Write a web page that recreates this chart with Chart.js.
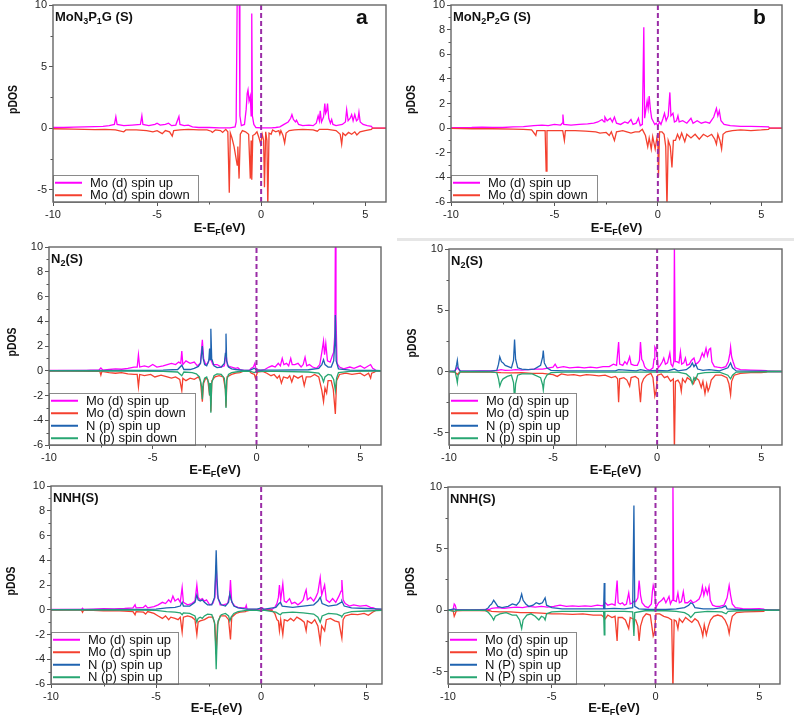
<!DOCTYPE html>
<html>
<head>
<meta charset="utf-8">
<script src="https://cdn.jsdelivr.net/npm/chart.js@4/dist/chart.umd.min.js"></script>
<style>
body { margin: 0; background: #fff; }
#wrap { position: relative; width: 794px; height: 718px; overflow: hidden; }
#wrap canvas { position: absolute; }
.sep { position: absolute; background: #e6e6e6; }
</style>
</head>
<body>
<div id="wrap">
  <div class="sep" style="left:397px;top:238px;width:397px;height:3px"></div>
</div>
<script>
// tick values
const xTicks = [-10, -5, 0, 5];
const xMinor = [-7.5, -2.5, 2.5];
const yTicks5 = [-5, 0, 5, 10];
const yMinor5 = [-2.5, 2.5, 7.5];
const yTicks2 = [-6, -4, -2, 0, 2, 4, 6, 8, 10];
const yMinor2 = [-5, -3, -1, 1, 3, 5, 7, 9];

// legend labels
const labels2 = ["Mo (d) spin up", "Mo (d) spin down"];
const labelsC = ["Mo (d) spin up", "Mo (d) spin down", "N (p) spin up", "N (p) spin down"];
const labelsDE = ["Mo (d) spin up", "Mo (d) spin up", "N (p) spin up", "N (p) spin up"];
const labelsF = ["Mo (d) spin up", "Mo (d) spin up", "N (P) spin up", "N (P) spin up"];

// Fermi level marker
const fermi = [[0, -6], [0, 10]];

// (a) MoN3P1G
const aMoUp = [[-10,0.05],[-9.5,0.05],[-9,0.08],[-8.5,0.1],[-8,0.12],[-7.6,0.15],[-7.3,0.2],[-7.05,0.3],[-6.98,0.92],[-6.92,0.3],[-6.6,0.2],[-6.2,0.25],[-5.8,0.3],[-5.73,1.0],[-5.68,0.3],[-5.4,0.2],[-5.1,0.3],[-5.0,0.4],[-4.85,0.25],[-4.6,0.3],[-4.45,0.4],[-4.3,0.2],[-4.1,0.25],[-3.95,0.95],[-3.9,0.3],[-3.7,0.2],[-3.5,0.25],[-3.3,0.1],[-3.0,0.05],[-2.5,0.05],[-2,0.02],[-1.5,0.02],[-1.25,0.1],[-1.2,0.5],[-1.15,10.5],[-1.05,10.5],[-1.02,1.0],[-0.95,0.2],[-0.8,0.3],[-0.72,1.5],[-0.67,2.8],[-0.63,3.1],[-0.58,2.2],[-0.52,2.6],[-0.48,1.0],[-0.45,9.3],[-0.42,1.0],[-0.35,0.3],[-0.25,0.05],[0,0.02],[0.5,0.02],[0.7,0.05],[0.9,0.1],[1.1,0.3],[1.3,0.5],[1.42,0.8],[1.48,1.1],[1.55,0.7],[1.65,0.5],[1.7,0.65],[1.8,0.3],[2.0,0.2],[2.3,0.25],[2.5,0.2],[2.65,0.4],[2.74,1.0],[2.8,0.6],[2.84,1.4],[2.9,0.5],[3.0,0.9],[3.06,2.0],[3.1,1.2],[3.15,1.4],[3.19,2.0],[3.25,0.8],[3.33,0.4],[3.39,0.7],[3.45,0.3],[3.6,0.2],[3.9,0.3],[4.05,0.5],[4.11,1.5],[4.18,0.6],[4.28,0.8],[4.35,1.1],[4.42,0.6],[4.5,1.1],[4.58,0.6],[4.65,0.7],[4.7,1.3],[4.76,0.5],[4.9,0.3],[5.1,0.2],[5.3,0.15],[5.35,0],[6,0]];
const aMoDn = [[-10,-0.05],[-9,-0.08],[-8.5,-0.1],[-8,-0.12],[-7.5,-0.1],[-7,-0.15],[-6.6,-0.3],[-6.5,-0.15],[-6,-0.15],[-5.5,-0.2],[-5.2,-0.3],[-5,-0.2],[-4.75,-0.45],[-4.6,-0.2],[-4.4,-0.3],[-4.27,-0.65],[-4.2,-0.2],[-3.9,-0.15],[-3.5,-0.1],[-3,-0.15],[-2.6,-0.15],[-2.4,-0.25],[-2.34,-0.35],[-2.2,-0.15],[-1.95,-0.2],[-1.85,-0.35],[-1.7,-0.1],[-1.6,-0.3],[-1.53,-5.25],[-1.48,-0.4],[-1.4,-0.8],[-1.3,-1.5],[-1.2,-2.5],[-1.15,-3.0],[-1.12,-1.5],[-1.06,-4.1],[-1.0,-0.5],[-0.9,-0.2],[-0.75,-0.3],[-0.6,-0.5],[-0.52,-4.1],[-0.48,-1.0],[-0.45,-4.2],[-0.4,-0.6],[-0.3,-0.5],[-0.2,-0.3],[-0.1,-0.8],[-0.02,-1.3],[0.05,-0.5],[0.12,-1.0],[0.16,-4.8],[0.22,-0.3],[0.28,-1.0],[0.32,-6.5],[0.38,-0.4],[0.48,-0.5],[0.55,-0.15],[0.7,-0.3],[0.85,-0.2],[0.9,-0.5],[0.95,-0.2],[1.05,-0.6],[1.13,-1.2],[1.2,-0.4],[1.35,-0.2],[1.6,-0.15],[2,-0.1],[2.5,-0.15],[2.7,-0.25],[2.8,-0.1],[3.2,-0.1],[3.6,-0.2],[3.8,-0.5],[3.87,-1.3],[3.93,-0.4],[4.05,-0.6],[4.2,-0.35],[4.35,-0.5],[4.5,-0.3],[4.6,-0.55],[4.75,-0.3],[5,-0.2],[5.3,-0.1],[5.35,0],[6,0]];

// (b) MoN2P2G
const bMoUp = [[-10,0.03],[-9,0.05],[-8.5,0.08],[-8,0.05],[-7.5,0.05],[-7,0.1],[-6.5,0.12],[-6,0.2],[-5.6,0.25],[-5.3,0.2],[-5,0.3],[-4.7,0.25],[-4.62,0.4],[-4.59,1.1],[-4.55,0.3],[-4.2,0.25],[-3.8,0.3],[-3.4,0.35],[-3.1,0.4],[-2.9,0.5],[-2.7,0.7],[-2.6,0.5],[-2.56,0.9],[-2.45,0.6],[-2.3,0.8],[-2.2,0.5],[-2.1,0.9],[-2.0,0.4],[-1.8,0.3],[-1.6,0.5],[-1.45,0.4],[-1.3,0.7],[-1.2,0.3],[-1.05,0.4],[-0.94,0.8],[-0.85,0.2],[-0.75,0.3],[-0.68,8.2],[-0.64,0.8],[-0.58,1.5],[-0.52,2.2],[-0.47,1.6],[-0.42,2.6],[-0.36,1.5],[-0.3,0.8],[-0.24,0.6],[-0.15,0.3],[-0.08,0.4],[0,0.2],[0.08,0.5],[0.15,0.3],[0.25,0.8],[0.32,1.2],[0.4,0.6],[0.5,1.0],[0.58,2.9],[0.63,1.0],[0.73,1.2],[0.8,0.5],[0.9,0.6],[0.97,1.0],[1.03,0.5],[1.2,0.6],[1.4,0.4],[1.6,0.8],[1.7,0.4],[1.9,0.6],[2.1,0.4],[2.3,0.5],[2.5,0.4],[2.7,0.9],[2.83,1.6],[2.9,1.0],[2.97,1.4],[3.05,0.6],[3.2,0.3],[3.5,0.2],[4,0.15],[4.5,0.15],[5,0.12],[5.35,0.1],[5.4,0],[6,0]];
const bMoDn = [[-10,-0.02],[-9,-0.05],[-8,-0.05],[-7,-0.08],[-6.5,-0.1],[-6.1,-0.15],[-5.9,-0.6],[-5.85,-0.2],[-5.6,-0.2],[-5.45,-0.2],[-5.4,-3.5],[-5.36,-0.2],[-5,-0.2],[-4.6,-0.2],[-4.52,-1.0],[-4.47,-0.2],[-4,-0.2],[-3.5,-0.25],[-3,-0.3],[-2.8,-0.4],[-2.5,-0.35],[-2.35,-0.6],[-2.25,-0.3],[-2.1,-1.0],[-2.0,-0.3],[-1.7,-0.2],[-1.5,-0.3],[-1.3,-0.4],[-1.1,-0.3],[-0.9,-0.3],[-0.75,-0.1],[-0.6,-0.6],[-0.49,-1.5],[-0.42,-0.8],[-0.32,-1.7],[-0.25,-0.7],[-0.13,-1.7],[-0.05,-0.8],[0,-1.2],[0.03,-4.0],[0.08,-0.3],[0.2,-0.3],[0.3,-0.5],[0.38,-1.5],[0.44,-6.5],[0.5,-1.0],[0.6,-1.5],[0.68,-3.2],[0.75,-1.0],[0.85,-1.0],[0.95,-0.5],[1.05,-0.9],[1.15,-0.4],[1.3,-1.1],[1.4,-0.5],[1.6,-0.8],[1.8,-0.5],[2.0,-0.9],[2.2,-0.5],[2.4,-0.7],[2.6,-0.5],[2.75,-0.9],[2.83,-1.3],[2.9,-0.5],[3.0,-1.0],[3.08,-1.7],[3.15,-0.5],[3.3,-0.3],[3.6,-0.2],[4,-0.15],[4.5,-0.2],[5,-0.15],[5.35,-0.1],[5.4,0],[6,0]];

// (c) N2 on MoN3P1G
const cMoUp = [[-10,0.02],[-9,0.02],[-8.2,0.03],[-8,0.05],[-7.6,0.05],[-7.5,0.22],[-7.4,0.05],[-7.1,0.1],[-6.8,0.15],[-6.5,0.12],[-6.2,0.2],[-5.9,0.3],[-5.75,0.3],[-5.69,1.3],[-5.63,0.3],[-5.4,0.4],[-5.2,0.3],[-5,0.5],[-4.8,0.3],[-4.5,0.4],[-4.3,0.5],[-4.1,0.6],[-3.9,0.5],[-3.75,0.7],[-3.65,0.6],[-3.6,1.6],[-3.55,0.5],[-3.4,0.8],[-3.2,0.6],[-3.0,0.7],[-2.85,0.4],[-2.7,0.6],[-2.61,2.5],[-2.55,1.0],[-2.45,0.5],[-2.35,0.6],[-2.26,1.0],[-2.2,0.9],[-2.1,0.5],[-1.9,0.5],[-1.7,0.3],[-1.55,0.4],[-1.47,1.4],[-1.4,0.4],[-1.2,0.3],[-1.0,0.2],[-0.9,0.25],[-0.8,0.1],[-0.6,0.02],[-0.35,0.02],[-0.25,0.2],[-0.15,0.3],[-0.08,0.6],[-0.02,0.1],[0.2,0.02],[0.4,0.1],[0.6,0.3],[0.75,0.4],[0.9,0.3],[1.05,0.6],[1.15,0.4],[1.24,1.0],[1.32,0.5],[1.45,0.6],[1.55,0.4],[1.65,1.0],[1.72,0.5],[1.85,0.5],[2.0,0.6],[2.15,0.3],[2.25,0.5],[2.34,1.1],[2.42,0.4],[2.55,0.5],[2.7,0.3],[2.9,0.2],[3.05,0.5],[3.15,1.5],[3.23,2.4],[3.28,1.3],[3.34,2.2],[3.42,0.8],[3.55,0.7],[3.65,1.2],[3.72,1.5],[3.78,3.1],[3.8,10.5],[3.83,4.5],[3.88,0.6],[4.0,0.3],[4.2,0.15],[4.5,0.3],[4.7,0.2],[5.0,0.4],[5.2,0.2],[5.5,0.5],[5.6,0.2],[5.7,0.1],[5.75,0],[6,0]];
const cMoDn = [[-10,-0.02],[-9,-0.02],[-8,-0.05],[-7.55,-0.05],[-7.5,-0.35],[-7.45,-0.05],[-7.1,-0.15],[-6.8,-0.2],[-6.5,-0.15],[-6.2,-0.25],[-5.9,-0.3],[-5.75,-0.3],[-5.69,-1.3],[-5.63,-0.3],[-5.4,-0.4],[-5.1,-0.3],[-4.9,-0.5],[-4.6,-0.35],[-4.3,-0.5],[-4.1,-0.6],[-3.9,-0.5],[-3.7,-0.7],[-3.6,-1.6],[-3.55,-0.6],[-3.4,-0.8],[-3.2,-0.6],[-3.0,-0.7],[-2.8,-0.5],[-2.7,-0.8],[-2.61,-2.5],[-2.55,-1.0],[-2.45,-0.6],[-2.35,-0.7],[-2.26,-2.0],[-2.23,-1.0],[-2.2,-3.3],[-2.15,-0.8],[-2.0,-0.5],[-1.8,-0.4],[-1.6,-0.5],[-1.5,-1.5],[-1.47,-2.9],[-1.42,-0.5],[-1.2,-0.3],[-1.0,-0.2],[-0.8,-0.15],[-0.6,-0.02],[-0.35,-0.02],[-0.25,-0.2],[-0.1,-0.3],[-0.05,-0.6],[0.05,-0.1],[0.3,-0.05],[0.5,-0.2],[0.7,-0.4],[0.85,-0.3],[1.0,-0.6],[1.1,-0.4],[1.2,-1.0],[1.3,-0.5],[1.5,-0.6],[1.6,-0.4],[1.7,-0.9],[1.8,-0.4],[2.0,-0.6],[2.2,-0.4],[2.3,-1.2],[2.4,-0.5],[2.6,-0.5],[2.8,-0.3],[3.0,-0.5],[3.15,-1.6],[3.23,-2.5],[3.3,-1.4],[3.38,-1.8],[3.45,-0.8],[3.6,-0.8],[3.7,-1.5],[3.8,-3.5],[3.86,-0.8],[4.0,-0.3],[4.3,-0.2],[4.6,-0.3],[5.0,-0.2],[5.2,-0.4],[5.4,-0.2],[5.5,-0.6],[5.55,-0.2],[5.7,-0.1],[5.75,0],[6,0]];
const cNUp = [[-10,0.01],[-6,0.02],[-4.5,0.05],[-3.8,0.1],[-3.6,0.45],[-3.5,0.1],[-3.2,0.1],[-3.0,0.2],[-2.8,0.35],[-2.7,0.6],[-2.64,1.5],[-2.61,2.0],[-2.57,1.0],[-2.5,0.5],[-2.4,0.4],[-2.3,0.8],[-2.26,1.8],[-2.23,0.9],[-2.2,3.4],[-2.16,1.0],[-2.05,0.4],[-1.9,0.25],[-1.7,0.3],[-1.55,0.6],[-1.5,1.4],[-1.47,3.0],[-1.44,0.8],[-1.35,0.3],[-1.2,0.15],[-1.0,0.1],[-0.6,0.02],[-0.3,0.05],[-0.1,0.2],[0,0.05],[1,0.05],[2.5,0.08],[3.0,0.2],[3.15,0.5],[3.23,0.9],[3.3,0.5],[3.45,0.3],[3.6,0.3],[3.72,0.8],[3.78,2.5],[3.8,4.5],[3.84,0.8],[3.95,0.15],[4.5,0.05],[5.75,0.02],[6,0]];
const cNDn = [[-10,-0.01],[-6,-0.02],[-4.5,-0.05],[-3.8,-0.1],[-3.6,-0.4],[-3.5,-0.1],[-3.1,-0.15],[-2.9,-0.25],[-2.75,-0.5],[-2.64,-1.3],[-2.61,-2.3],[-2.57,-1.0],[-2.5,-0.6],[-2.4,-0.5],[-2.3,-1.0],[-2.26,-2.0],[-2.23,-1.0],[-2.2,-3.4],[-2.16,-1.0],[-2.05,-0.4],[-1.9,-0.25],[-1.7,-0.3],[-1.55,-0.6],[-1.5,-1.5],[-1.47,-3.0],[-1.44,-0.8],[-1.35,-0.3],[-1.2,-0.15],[-1.0,-0.1],[-0.6,-0.02],[-0.3,-0.05],[-0.1,-0.15],[0,-0.05],[1,-0.05],[2.5,-0.1],[3.0,-0.2],[3.15,-0.5],[3.23,-0.9],[3.3,-0.5],[3.45,-0.3],[3.6,-0.35],[3.72,-0.7],[3.8,-1.6],[3.86,-0.6],[3.95,-0.15],[4.5,-0.05],[5.75,-0.02],[6,0]];

// (d) N2 on MoN2P2G
const dMoUp = [[-10,0],[-9.75,0.02],[-9.65,0.2],[-9.6,0.35],[-9.55,0.2],[-9.45,0.02],[-9,0.03],[-8.5,0.05],[-8,0.05],[-7.7,0.08],[-7.5,0.15],[-7.3,0.1],[-7,0.12],[-6.8,0.15],[-6.5,0.12],[-6.2,0.15],[-5.9,0.2],[-5.5,0.2],[-5.2,0.3],[-5,0.35],[-4.9,0.6],[-4.8,0.3],[-4.5,0.4],[-4.2,0.3],[-3.8,0.35],[-3.5,0.3],[-3.2,0.35],[-2.9,0.3],[-2.6,0.4],[-2.3,0.4],[-2.1,0.6],[-1.95,0.5],[-1.85,2.4],[-1.8,0.6],[-1.65,0.5],[-1.55,0.8],[-1.45,0.6],[-1.38,0.9],[-1.32,1.2],[-1.25,0.6],[-1.1,0.5],[-0.95,0.5],[-0.85,0.9],[-0.8,2.4],[-0.74,1.0],[-0.67,0.8],[-0.6,0.4],[-0.5,0.2],[-0.35,0.1],[-0.2,0.3],[-0.15,1.0],[-0.11,2.0],[-0.05,1.8],[0,1.5],[0.05,0.3],[0.15,0.5],[0.25,0.8],[0.32,1.1],[0.4,0.6],[0.5,0.7],[0.61,1.5],[0.67,0.6],[0.75,0.4],[0.8,0.8],[0.83,10.5],[0.87,0.8],[0.95,0.8],[1.05,0.7],[1.12,1.6],[1.18,0.6],[1.28,0.7],[1.36,1.1],[1.43,0.5],[1.55,0.6],[1.65,0.9],[1.77,1.1],[1.85,0.6],[1.95,0.7],[2.05,0.9],[2.17,1.5],[2.25,1.2],[2.35,1.9],[2.42,1.3],[2.5,1.8],[2.57,1.9],[2.63,0.8],[2.75,0.4],[2.9,0.35],[3.1,0.3],[3.3,0.4],[3.42,0.8],[3.5,1.5],[3.53,2.0],[3.58,1.2],[3.65,0.8],[3.75,0.3],[4.0,0.15],[4.5,0.12],[5.0,0.1],[5.25,0.08],[5.3,0],[6,0]];
const dMoDn = [[-10,0],[-9.7,-0.05],[-9.6,-0.25],[-9.5,-0.05],[-9,-0.03],[-8,-0.05],[-7.5,-0.1],[-7,-0.12],[-6.5,-0.1],[-6,-0.15],[-5.5,-0.15],[-5,-0.25],[-4.8,-0.4],[-4.6,-0.2],[-4.3,-0.3],[-4,-0.25],[-3.7,-0.35],[-3.4,-0.25],[-3.1,-0.3],[-2.8,-0.35],[-2.5,-0.3],[-2.2,-0.5],[-2.0,-0.4],[-1.9,-0.6],[-1.85,-2.5],[-1.8,-0.6],[-1.6,-0.5],[-1.45,-0.7],[-1.32,-1.2],[-1.25,-0.5],[-1.05,-0.4],[-0.9,-0.6],[-0.8,-2.5],[-0.74,-1.0],[-0.65,-0.6],[-0.5,-0.3],[-0.3,-0.15],[-0.2,-0.5],[-0.11,-2.0],[-0.05,-1.6],[0.02,-0.3],[0.2,-0.2],[0.35,-0.5],[0.5,-0.4],[0.65,-0.8],[0.78,-0.6],[0.83,-6.5],[0.88,-0.8],[1.0,-0.7],[1.1,-1.0],[1.16,-1.6],[1.22,-0.6],[1.35,-0.9],[1.45,-0.5],[1.6,-0.7],[1.75,-1.0],[1.85,-0.5],[2.0,-0.7],[2.12,-1.3],[2.2,-0.8],[2.3,-1.8],[2.38,-1.0],[2.45,-1.6],[2.52,-1.3],[2.6,-0.7],[2.8,-0.3],[3.1,-0.3],[3.35,-0.5],[3.45,-1.0],[3.53,-1.9],[3.58,-0.8],[3.7,-0.3],[4.0,-0.15],[4.5,-0.1],[5.0,-0.08],[5.25,-0.05],[5.3,0],[6,0]];
const dNUp = [[-10,0],[-9.7,0.05],[-9.63,0.6],[-9.6,0.9],[-9.56,0.3],[-9.45,0.02],[-9,0.02],[-8,0.03],[-7.7,0.1],[-7.62,0.6],[-7.56,1.2],[-7.48,0.8],[-7.4,0.7],[-7.3,0.5],[-7.15,0.4],[-7.0,0.3],[-6.9,0.9],[-6.85,2.6],[-6.8,1.0],[-6.7,0.3],[-6.5,0.2],[-6.2,0.15],[-5.9,0.2],[-5.6,0.5],[-5.5,1.2],[-5.47,1.7],[-5.42,0.7],[-5.3,0.3],[-5.1,0.1],[-4.5,0.05],[-3,0.05],[-2,0.05],[-1.85,0.15],[-1,0.05],[-0.8,0.15],[-0.5,0.05],[0,0.08],[0.5,0.05],[0.83,0.2],[1.0,0.05],[1.4,0.15],[1.6,0.4],[1.69,0.7],[1.77,0.4],[1.85,0.6],[1.95,0.2],[2.2,0.1],[2.5,0.15],[3.0,0.05],[3.4,0.3],[3.53,0.7],[3.62,0.3],[3.8,0.05],[5.3,0.02],[6,0]];
const dNDn = [[-10,0],[-9.7,-0.05],[-9.63,-0.6],[-9.6,-0.9],[-9.56,-0.3],[-9.45,-0.02],[-8,-0.03],[-7.7,-0.1],[-7.62,-0.6],[-7.56,-1.2],[-7.48,-0.8],[-7.4,-0.6],[-7.2,-0.4],[-7.0,-0.3],[-6.9,-0.9],[-6.85,-2.3],[-6.8,-1.0],[-6.7,-0.3],[-6.5,-0.2],[-6.0,-0.2],[-5.6,-0.5],[-5.5,-1.1],[-5.47,-1.5],[-5.42,-0.7],[-5.3,-0.3],[-5.1,-0.1],[-4.5,-0.05],[-2,-0.05],[-1,-0.05],[0,-0.05],[1.0,-0.05],[1.4,-0.2],[1.6,-0.5],[1.69,-1.0],[1.77,-0.5],[1.85,-0.7],[1.95,-0.2],[2.3,-0.1],[3.0,-0.05],[3.4,-0.3],[3.53,-0.6],[3.62,-0.3],[3.8,-0.05],[5.3,-0.02],[6,0]];

// (e) NNH on MoN3P1G
const eMoUp = [[-10,0.02],[-9,0.03],[-8.55,0.03],[-8.5,0.12],[-8.45,0.03],[-8,0.05],[-7.5,0.08],[-7,0.07],[-6.5,0.1],[-6.1,0.15],[-6.0,0.4],[-5.95,0.15],[-5.6,0.2],[-5.5,0.35],[-5.4,0.15],[-5.1,0.25],[-4.9,0.4],[-4.7,0.6],[-4.55,0.5],[-4.4,0.8],[-4.3,0.6],[-4.2,1.1],[-4.1,0.7],[-3.95,0.9],[-3.85,0.6],[-3.76,1.8],[-3.7,0.6],[-3.5,0.4],[-3.3,0.5],[-3.15,0.7],[-3.06,2.0],[-3.0,1.0],[-2.9,0.8],[-2.8,0.9],[-2.7,0.7],[-2.6,0.8],[-2.45,0.4],[-2.3,0.5],[-2.2,1.0],[-2.14,3.6],[-2.08,1.2],[-1.95,0.4],[-1.8,0.4],[-1.6,0.5],[-1.5,1.2],[-1.46,2.4],[-1.4,0.6],[-1.25,0.3],[-1.1,0.2],[-0.9,0.15],[-0.75,0.15],[-0.71,0.35],[-0.67,0.05],[-0.3,0.02],[-0.05,0.05],[0.05,0.15],[0.15,0.03],[0.5,0.02],[0.65,0.2],[0.75,0.5],[0.82,1.0],[0.87,2.0],[0.93,0.8],[1.03,2.1],[1.1,0.7],[1.2,0.6],[1.35,0.9],[1.45,0.5],[1.6,0.6],[1.75,0.4],[1.9,0.6],[2.0,0.8],[2.08,1.3],[2.14,1.6],[2.2,0.8],[2.35,1.0],[2.5,0.7],[2.6,1.0],[2.7,1.4],[2.81,2.6],[2.88,1.2],[2.95,1.6],[3.02,2.0],[3.1,0.8],[3.25,0.6],[3.4,0.9],[3.55,0.6],[3.7,1.1],[3.8,1.5],[3.84,2.4],[3.9,0.8],[4.0,0.5],[4.2,0.3],[4.4,0.4],[4.7,0.3],[5.0,0.35],[5.2,0.2],[5.35,0.15],[5.45,0.05],[5.75,0.02]];
const eMoDn = [[-10,-0.02],[-9,-0.03],[-8.55,-0.03],[-8.5,-0.2],[-8.45,-0.03],[-8,-0.05],[-7.5,-0.08],[-7,-0.07],[-6.5,-0.1],[-6.1,-0.15],[-6.0,-0.4],[-5.95,-0.15],[-5.6,-0.2],[-5.5,-0.35],[-5.4,-0.15],[-5.1,-0.3],[-4.9,-0.5],[-4.7,-0.7],[-4.55,-0.5],[-4.4,-0.8],[-4.3,-0.6],[-4.1,-0.7],[-3.95,-0.8],[-3.85,-0.6],[-3.76,-1.8],[-3.7,-0.6],[-3.5,-0.5],[-3.3,-0.6],[-3.15,-0.8],[-3.06,-2.0],[-3.0,-1.0],[-2.9,-0.9],[-2.7,-0.8],[-2.5,-0.6],[-2.3,-0.6],[-2.2,-1.2],[-2.14,-3.6],[-2.08,-1.2],[-1.95,-0.5],[-1.7,-0.5],[-1.55,-0.8],[-1.46,-2.4],[-1.4,-0.6],[-1.2,-0.3],[-1.0,-0.2],[-0.75,-0.15],[-0.71,-0.1],[-0.5,-0.03],[0,-0.05],[0.5,-0.03],[0.65,-0.3],[0.75,-0.8],[0.82,-0.9],[0.87,-1.7],[0.93,-0.8],[1.03,-2.0],[1.1,-0.8],[1.25,-0.9],[1.4,-0.7],[1.55,-0.9],[1.7,-0.6],[1.9,-0.8],[2.05,-1.0],[2.14,-1.7],[2.2,-0.9],[2.4,-1.1],[2.55,-0.8],[2.7,-1.3],[2.81,-2.6],[2.88,-1.3],[3.02,-1.7],[3.1,-0.8],[3.3,-0.7],[3.5,-0.9],[3.7,-1.0],[3.84,-2.3],[3.9,-0.8],[4.0,-0.5],[4.3,-0.35],[4.6,-0.4],[4.9,-0.3],[5.1,-0.45],[5.3,-0.2],[5.45,-0.05],[5.75,-0.02]];
const eNUp = [[-10,0.01],[-6,0.02],[-5,0.05],[-4.5,0.15],[-4.1,0.2],[-3.85,0.3],[-3.76,0.6],[-3.7,0.3],[-3.4,0.3],[-3.15,0.6],[-3.06,1.2],[-3.0,0.8],[-2.9,0.7],[-2.8,0.8],[-2.7,0.6],[-2.55,0.4],[-2.35,0.4],[-2.22,1.0],[-2.17,3.0],[-2.14,4.8],[-2.1,2.5],[-2.05,0.9],[-1.9,0.4],[-1.7,0.3],[-1.55,0.6],[-1.49,1.3],[-1.43,0.8],[-1.3,0.3],[-1.1,0.15],[-0.7,0.05],[-0.2,0.05],[0,0.15],[0.1,0.03],[0.7,0.2],[0.85,0.5],[0.92,0.6],[1.0,0.3],[1.5,0.2],[2.0,0.3],[2.5,0.4],[2.7,0.7],[2.81,1.0],[2.9,0.5],[3.2,0.3],[3.6,0.4],[3.8,0.6],[3.84,0.7],[3.95,0.3],[4.3,0.15],[5,0.1],[5.75,0.05]];
const eNDn = [[-10,-0.01],[-6,-0.02],[-5,-0.05],[-4.5,-0.15],[-4.1,-0.2],[-3.85,-0.25],[-3.76,-0.4],[-3.7,-0.25],[-3.4,-0.3],[-3.15,-0.5],[-3.06,-1.0],[-3.0,-0.7],[-2.9,-0.6],[-2.8,-0.7],[-2.7,-0.5],[-2.55,-0.35],[-2.35,-0.4],[-2.22,-1.0],[-2.17,-3.0],[-2.14,-4.8],[-2.1,-2.5],[-2.05,-0.9],[-1.9,-0.4],[-1.7,-0.3],[-1.55,-0.5],[-1.49,-0.9],[-1.43,-0.6],[-1.3,-0.3],[-1.1,-0.15],[-0.7,-0.05],[-0.2,-0.05],[0,-0.1],[0.1,-0.03],[0.7,-0.2],[0.85,-0.35],[0.92,-0.4],[1.0,-0.25],[1.5,-0.2],[2.0,-0.25],[2.5,-0.35],[2.7,-0.6],[2.81,-1.0],[2.9,-0.5],[3.2,-0.3],[3.6,-0.35],[3.8,-0.5],[3.84,-0.55],[3.95,-0.3],[4.3,-0.15],[5,-0.1],[5.75,-0.05]];

// (f) NNH on MoN2P2G
const fMoUp = [[-10,0],[-9.75,0.05],[-9.7,0.5],[-9.65,0.4],[-9.6,0.05],[-9,0.02],[-8.5,0.03],[-8,0.05],[-7.9,0.15],[-7.6,0.2],[-7.3,0.15],[-7.0,0.2],[-6.7,0.25],[-6.4,0.2],[-6.1,0.3],[-5.8,0.25],[-5.5,0.3],[-5.2,0.25],[-4.9,0.3],[-4.6,0.4],[-4.3,0.3],[-4.0,0.35],[-3.7,0.3],[-3.4,0.35],[-3.1,0.3],[-2.8,0.4],[-2.55,0.35],[-2.42,0.6],[-2.3,0.4],[-2.1,0.5],[-1.95,0.4],[-1.85,2.4],[-1.8,0.6],[-1.7,0.5],[-1.6,0.6],[-1.5,0.4],[-1.4,0.5],[-1.29,1.4],[-1.22,0.5],[-1.1,0.6],[-1.05,0.7],[-0.95,0.7],[-0.85,1.0],[-0.79,2.4],[-0.72,1.2],[-0.65,0.6],[-0.5,0.3],[-0.35,0.2],[-0.2,0.5],[-0.15,1.5],[-0.11,2.0],[-0.05,1.6],[0.02,0.2],[0.15,0.6],[0.3,0.8],[0.4,1.0],[0.5,0.6],[0.65,1.1],[0.72,0.5],[0.8,0.8],[0.84,10.5],[0.88,0.8],[1.0,0.7],[1.08,1.4],[1.15,0.6],[1.25,0.7],[1.34,1.5],[1.42,0.6],[1.55,0.6],[1.7,0.8],[1.8,0.6],[1.95,0.7],[2.1,0.9],[2.2,1.3],[2.26,1.9],[2.33,1.2],[2.42,1.8],[2.5,1.3],[2.58,1.9],[2.64,0.8],[2.75,0.4],[2.9,0.3],[3.1,0.3],[3.3,0.4],[3.45,1.0],[3.55,2.0],[3.62,1.2],[3.7,0.5],[3.85,0.2],[4.2,0.12],[4.6,0.1],[5.0,0.12],[5.22,0.08],[5.26,0],[6,0]];
const fMoDn = [[-10,0],[-9.75,-0.05],[-9.7,-0.5],[-9.65,-0.3],[-9.6,-0.05],[-9,-0.02],[-8,-0.05],[-7.9,-0.1],[-7.5,-0.15],[-7.0,-0.15],[-6.5,-0.2],[-6.0,-0.2],[-5.5,-0.25],[-5.0,-0.3],[-4.5,-0.3],[-4.0,-0.35],[-3.5,-0.3],[-3.0,-0.4],[-2.6,-0.4],[-2.42,-0.7],[-2.3,-0.4],[-2.1,-0.6],[-1.95,-0.5],[-1.85,-2.5],[-1.8,-0.6],[-1.6,-0.6],[-1.45,-0.8],[-1.29,-1.5],[-1.22,-0.6],[-1.1,-0.7],[-0.95,-0.8],[-0.85,-1.3],[-0.79,-2.5],[-0.72,-1.3],[-0.6,-0.6],[-0.45,-0.3],[-0.25,-0.4],[-0.15,-1.6],[-0.11,-2.1],[-0.05,-1.8],[0.02,-0.3],[0.2,-0.3],[0.4,-0.5],[0.6,-0.6],[0.78,-0.8],[0.84,-6.5],[0.9,-0.8],[1.0,-0.9],[1.08,-1.5],[1.15,-0.7],[1.3,-1.0],[1.45,-0.6],[1.6,-0.8],[1.75,-1.0],[1.9,-0.7],[2.05,-0.9],[2.2,-1.5],[2.28,-2.1],[2.35,-1.2],[2.45,-2.0],[2.55,-1.3],[2.65,-0.8],[2.8,-0.5],[3.0,-0.4],[3.2,-0.5],[3.35,-0.8],[3.48,-1.3],[3.55,-1.9],[3.62,-1.1],[3.7,-0.5],[3.9,-0.2],[4.3,-0.15],[4.8,-0.12],[5.22,-0.1],[5.26,0],[6,0]];
const fNUp = [[-10,0],[-9.7,0.1],[-9.6,0.02],[-8.2,0.02],[-8.05,0.2],[-8.0,0.35],[-7.9,0.5],[-7.8,0.8],[-7.72,0.6],[-7.6,0.3],[-7.4,0.2],[-7.1,0.3],[-6.9,0.5],[-6.7,0.4],[-6.55,0.7],[-6.45,1.3],[-6.38,0.8],[-6.25,0.5],[-6.1,0.3],[-5.9,0.4],[-5.75,0.6],[-5.6,0.5],[-5.45,0.6],[-5.32,1.0],[-5.25,0.4],[-5.0,0.2],[-4.5,0.1],[-3.5,0.1],[-2.8,0.1],[-2.5,0.1],[-2.47,2.2],[-2.44,0.1],[-2.0,0.15],[-1.5,0.1],[-1.1,0.2],[-1.04,8.5],[-1.0,0.3],[-0.8,0.1],[-0.3,0.05],[0,0.05],[0.5,0.05],[1.0,0.1],[1.4,0.2],[1.6,0.4],[1.7,0.6],[1.8,0.5],[1.9,0.2],[2.3,0.1],[2.8,0.1],[3.2,0.2],[3.38,0.35],[3.45,0.1],[4,0.05],[5.25,0.02],[6,0]];
const fNDn = [[-10,0],[-9.7,-0.1],[-9.6,-0.02],[-8.2,-0.02],[-8.05,-0.2],[-7.9,-0.5],[-7.8,-0.8],[-7.72,-0.5],[-7.5,-0.3],[-7.2,-0.2],[-6.9,-0.4],[-6.7,-0.4],[-6.55,-0.8],[-6.45,-1.5],[-6.38,-0.8],[-6.2,-0.4],[-6.0,-0.3],[-5.8,-0.5],[-5.62,-0.8],[-5.5,-0.5],[-5.38,-0.6],[-5.32,-0.8],[-5.25,-0.3],[-5.0,-0.15],[-4.5,-0.1],[-3,-0.1],[-2.5,-0.1],[-2.47,-2.0],[-2.44,-0.1],[-1.5,-0.1],[-1.1,-0.15],[-1.04,-2.1],[-1.0,-0.2],[-0.5,-0.05],[0.5,-0.05],[1.0,-0.1],[1.4,-0.2],[1.6,-0.4],[1.7,-0.6],[1.8,-0.4],[1.9,-0.2],[2.5,-0.1],[3.2,-0.15],[3.4,-0.3],[3.5,-0.1],[4,-0.05],[5.25,-0.02],[6,0]];

const colors = ["#ff00ff", "#f4402f", "#1f63b0", "#27a672"];
const fermiColor = "#9a2ca6";

Chart.defaults.font.family = "'Liberation Sans', Arial, sans-serif";
Chart.defaults.font.size = 11;
Chart.defaults.color = "#262626";

const panels = [
  { box: [0, 0, 397, 235], plot: [53, 5, 386, 202], xMax: 6, yT: yTicks5, yM: yMinor5,
    series: [aMoUp, aMoDn], labels: labels2, legW: 145,
    title: [["MoN"], ["3", 1], ["P"], ["1", 1], ["G (S)"]], letter: [356, 24, "a"], xTitleY: 232, yTitleX: 13 },
  { box: [397, 0, 397, 235], plot: [451, 5, 782, 202], xMax: 6, yT: yTicks2, yM: yMinor2,
    series: [bMoUp, bMoDn], labels: labels2, legW: 146,
    title: [["MoN"], ["2", 1], ["P"], ["2", 1], ["G (S)"]], letter: [753, 24, "b"], xTitleY: 232, yTitleX: 411 },
  { box: [0, 235, 397, 248], plot: [49, 247, 381, 445], xMax: 6, yT: yTicks2, yM: yMinor2,
    series: [cMoUp, cMoDn, cNUp, cNDn], labels: labelsC, legW: 146,
    title: [["N"], ["2", 1], ["(S)"]], xTitleY: 474, yTitleX: 12 },
  { box: [397, 235, 397, 248], plot: [449, 249, 782, 445], xMax: 6, yT: yTicks5, yM: yMinor5,
    series: [dMoUp, dMoDn, dNUp, dNDn], labels: labelsDE, legW: 127,
    title: [["N"], ["2", 1], ["(S)"]], xTitleY: 474, yTitleX: 412 },
  { box: [0, 475, 397, 243], plot: [51, 486, 382, 684], xMax: 5.75, yT: yTicks2, yM: yMinor2,
    series: [eMoUp, eMoDn, eNUp, eNDn], labels: labelsDE, legW: 127,
    title: [["NNH(S)"]], xTitleY: 712, yTitleX: 11 },
  { box: [397, 475, 397, 243], plot: [448, 487, 780, 684], xMax: 6, yT: yTicks5, yM: yMinor5,
    series: [fMoUp, fMoDn, fNUp, fNDn], labels: labelsF, legW: 128,
    title: [["NNH(S)"]], xTitleY: 712, yTitleX: 410 }
];

const Y_AXIS_W = 40, X_AXIS_H = 25;

// text with subscripts, runs of [text, isSub]
function drawRuns(ctx, runs, x, y, size, align) {
  const big = "bold " + size + "px 'Liberation Sans', Arial, sans-serif";
  const small = "bold " + Math.round(size * 0.7) + "px 'Liberation Sans', Arial, sans-serif";
  let total = 0;
  runs.forEach(r => { ctx.font = r[1] ? small : big; total += ctx.measureText(r[0]).width; });
  let cx = align === "center" ? x - total / 2 : x;
  ctx.textAlign = "left";
  ctx.textBaseline = "alphabetic";
  runs.forEach(r => {
    ctx.font = r[1] ? small : big;
    ctx.fillText(r[0], cx, r[1] ? y + size * 0.25 : y);
    cx += ctx.measureText(r[0]).width;
  });
}

const panelDeco = {
  id: "panelDeco",
  afterDraw(chart, args, o) {
    const p = o.p;
    const ctx = chart.ctx, ca = chart.chartArea;
    const xs = chart.scales.x, ys = chart.scales.y;
    const ox = p.box[0], oy = p.box[1];
    ctx.save();

    // legend inside the plot, lower left
    const n = p.labels.length, rowH = 12.5;
    const lh = n * rowH + 2, lx = ca.left, ly = ca.bottom - lh;
    ctx.fillStyle = "#fff";
    ctx.fillRect(lx, ly, p.legW, lh);
    ctx.strokeStyle = "#8a8a8a";
    ctx.lineWidth = 1;
    ctx.strokeRect(lx + 0.5, ly + 0.5, p.legW, lh);
    ctx.font = "13px 'Liberation Sans', Arial, sans-serif";
    ctx.textBaseline = "middle";
    ctx.textAlign = "left";
    p.labels.forEach((t, i) => {
      const cy = ly + 1.5 + rowH / 2 + i * rowH;
      ctx.strokeStyle = colors[i];
      ctx.lineWidth = 2;
      ctx.beginPath();
      ctx.moveTo(lx + 2, cy);
      ctx.lineTo(lx + 29, cy);
      ctx.stroke();
      ctx.fillStyle = "#111";
      ctx.fillText(t, lx + 37, cy + 0.5);
    });

    // minor ticks
    ctx.strokeStyle = "#555";
    ctx.lineWidth = 1;
    ctx.beginPath();
    xMinor.forEach(v => {
      const px = Math.round(xs.getPixelForValue(v)) + 0.5;
      ctx.moveTo(px, ca.bottom); ctx.lineTo(px, ca.bottom + 2.5);
    });
    p.yM.forEach(v => {
      const py = Math.round(ys.getPixelForValue(v)) + 0.5;
      ctx.moveTo(ca.left, py); ctx.lineTo(ca.left - 2.5, py);
    });
    ctx.stroke();

    // frame
    ctx.strokeStyle = "#666";
    ctx.lineWidth = 1.4;
    ctx.strokeRect(ca.left, ca.top, ca.right - ca.left, ca.bottom - ca.top);

    // panel title
    ctx.fillStyle = "#111";
    drawRuns(ctx, p.title, ca.left + 2, ca.top + 16, 13, "left");
    if (p.letter) {
      ctx.font = "bold 21px 'Liberation Sans', Arial, sans-serif";
      ctx.textBaseline = "alphabetic";
      ctx.fillText(p.letter[2], p.letter[0] - ox, p.letter[1] - oy);
    }

    // x axis title
    drawRuns(ctx, [["E-E"], ["F", 1], ["(eV)"]], (ca.left + ca.right) / 2, p.xTitleY - oy, 13, "center");

    // y axis title
    ctx.save();
    ctx.translate(p.yTitleX - ox, (ca.top + ca.bottom) / 2 - 4);
    ctx.rotate(-Math.PI / 2);
    ctx.scale(0.8, 1);
    ctx.font = "bold 13px 'Liberation Sans', Arial, sans-serif";
    ctx.textAlign = "center";
    ctx.textBaseline = "middle";
    ctx.fillText("pDOS", 0, 0);
    ctx.restore();

    ctx.restore();
  }
};

const wrap = document.getElementById("wrap");
const toXY = arr => arr.map(q => ({ x: q[0], y: q[1] }));

panels.forEach(p => {
  const [bx, by, bw, bh] = p.box;
  const [pl, pt, pr, pb] = p.plot;
  const cv = document.createElement("canvas");
  cv.width = bw; cv.height = bh;
  cv.style.left = bx + "px"; cv.style.top = by + "px";
  cv.style.width = bw + "px"; cv.style.height = bh + "px";
  wrap.appendChild(cv);

  const datasets = p.series.map((s, i) => ({
    data: toXY(s),
    borderColor: colors[i],
    borderWidth: 1.3,
    pointRadius: 0,
    fill: false,
    tension: 0,
    order: 4 - i
  }));
  datasets.push({
    data: toXY(fermi),
    borderColor: fermiColor,
    borderWidth: 2,
    borderDash: [5, 3],
    pointRadius: 0,
    fill: false,
    order: 0
  });

  new Chart(cv, {
    type: "line",
    data: { datasets },
    options: {
      responsive: false,
      animation: false,
      devicePixelRatio: 1,
      layout: {
        padding: {
          left: pl - bx - Y_AXIS_W,
          top: pt - by,
          right: bx + bw - pr,
          bottom: by + bh - pb - X_AXIS_H
        }
      },
      plugins: {
        legend: { display: false },
        tooltip: { enabled: false },
        panelDeco: { p }
      },
      scales: {
        x: {
          type: "linear",
          min: -10, max: p.xMax,
          afterBuildTicks: s => { s.ticks = xTicks.map(v => ({ value: v })); },
          afterFit: s => { s.height = X_AXIS_H; s.paddingLeft = 0; s.paddingRight = 0; },
          grid: { drawOnChartArea: false, drawTicks: true, tickLength: 4, tickColor: "#555" },
          border: { display: false },
          ticks: { padding: 2, maxRotation: 0, autoSkip: false }
        },
        y: {
          type: "linear",
          min: -6, max: 10,
          afterBuildTicks: s => { s.ticks = p.yT.map(v => ({ value: v })); },
          afterFit: s => { s.width = Y_AXIS_W; s.paddingTop = 0; s.paddingBottom = 0; },
          grid: { drawOnChartArea: false, drawTicks: true, tickLength: 4, tickColor: "#555" },
          border: { display: false },
          ticks: { padding: 2, autoSkip: false }
        }
      }
    },
    plugins: [panelDeco]
  });
});
</script>
</body>
</html>
